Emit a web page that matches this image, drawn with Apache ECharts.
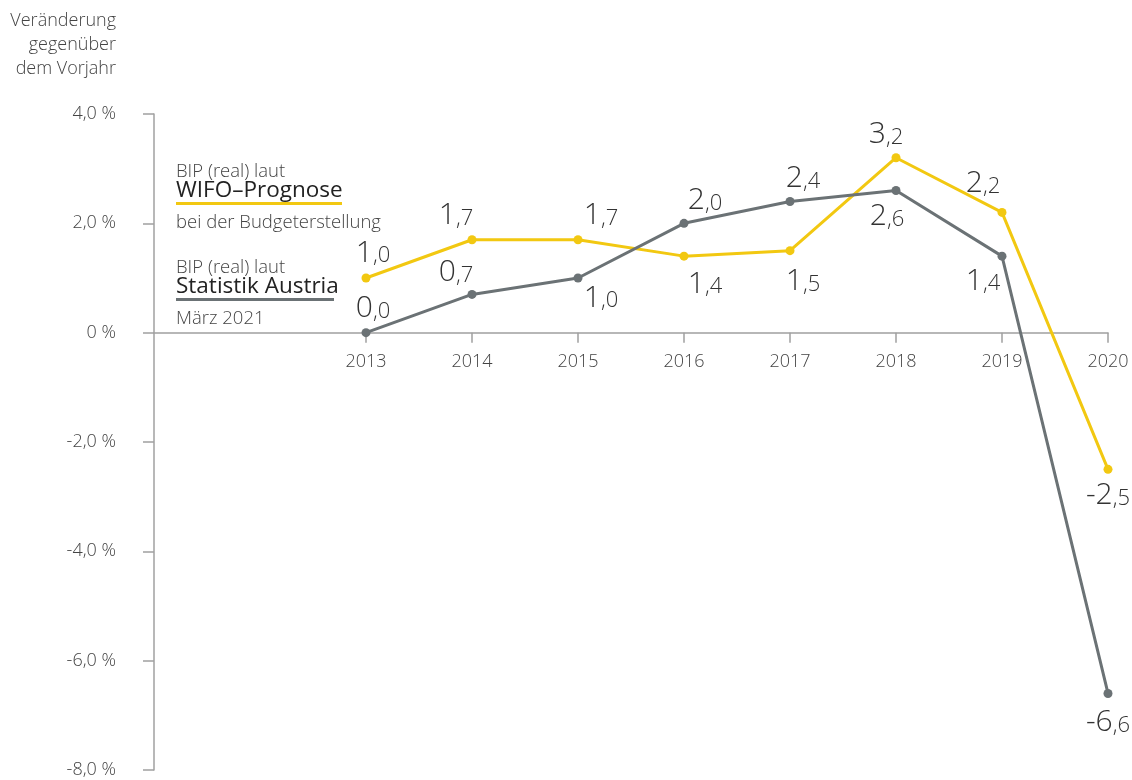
<!DOCTYPE html>
<html>
<head>
<meta charset="utf-8">
<script src="https://cdn.jsdelivr.net/npm/echarts@6/dist/echarts.min.js"></script>
<style>
html,body{margin:0;padding:0;background:#fff;}
#chart{width:1132px;height:780px;}
</style>
</head>
<body>
<div id="chart"></div>
<script>
// ---- data ----
const years = ['2013','2014','2015','2016','2017','2018','2019','2020'];
const wifo = [1.0, 1.7, 1.7, 1.4, 1.5, 3.2, 2.2, -2.5];
const statistik = [0.0, 0.7, 1.0, 2.0, 2.4, 2.6, 1.4, -6.6];
const yTicks = [-8, -6, -4, -2, 0, 2, 4];
const yTitle = ['Veränderung', 'gegenüber', 'dem Vorjahr'];
const legendWifo = ['BIP (real) laut', 'WIFO–Prognose', 'bei der Budgeterstellung'];
const legendStat = ['BIP (real) laut', 'Statistik Austria', 'März 2021'];

// ---- styling ----
const FONT = '"Open Sans", "Noto Sans", sans-serif';
const YELLOW = '#F2C811';
const GRAY = '#6B7275';
const TXT = '#333333';
const AXIS = '#A0A0A0';
const wifoOffsets = [[7,-26],[-16,-25],[23,-25],[21,27],[13,30],[-10,-24],[-19,-30],[0,25]];
const statOffsets = [[7,-25],[-16,-23],[23,19],[21,-24],[13,-24],[-9,25],[-19,24],[0,28]];

const pad = 2;
const cats = Array(pad).fill('').concat(years);
const GRID = {left: 154, right: 24, top: 114, bottom: 10};
const yMin = yTicks[0], yMax = yTicks[yTicks.length - 1];
const gridH = 780 - GRID.top - GRID.bottom;
const zeroOffset = -gridH * (0 - yMin) / (yMax - yMin);

function fmtNum(v){
  const s = v.toFixed(1).replace('.', ',');
  const i = s.indexOf(',');
  return '{a|' + s.slice(0, i) + '}{b|' + s.slice(i) + '}';
}
const rich = {
  a: {fontSize: 30, color: TXT, fontFamily: FONT, fontWeight: 300, lineHeight: 32, verticalAlign: 'bottom'},
  b: {fontSize: 22, color: TXT, fontFamily: FONT, fontWeight: 300, lineHeight: 24, verticalAlign: 'bottom', padding:[0,0,1,0]}
};
function buildData(vals, offs){
  return Array(pad).fill(null).concat(vals.map((v, k) => ({
    value: v,
    label: {offset: offs[k]}
  })));
}
function series(name, vals, offs, color, z){
  return {
    name, type: 'line', z,
    data: buildData(vals, offs),
    symbol: 'circle', symbolSize: 9,
    lineStyle: {color, width: 3},
    itemStyle: {color},
    label: {
      show: true, position: 'inside', align: 'center', verticalAlign: 'middle',
      formatter: p => fmtNum(p.value), rich, color: TXT
    },
    emphasis: {disabled: true},
    animation: false
  };
}

const graphics = [];
yTitle.forEach((t, i) => graphics.push({
  type: 'text', right: 1132 - 116, top: 12 + i * 24,
  style: {text: t, font: '300 18px ' + FONT, fill: '#444', textAlign: 'right'}
}));
function legendBlock(lines, top, color, ulWidth){
  graphics.push({type:'text', left:176, top: top - 1, style:{text: lines[0], font:'300 18.5px '+FONT, fill:'#444'}});
  graphics.push({type:'text', left:176, top: top + 16, style:{text: lines[1], font:'500 22.5px '+FONT, fill:'#222'}});
  graphics.push({type:'rect', shape:{x:176, y: top + 39, width: ulWidth, height: 3}, style:{fill: color}});
  graphics.push({type:'text', left:176, top: top + 50, style:{text: lines[2], font:'300 18.5px '+FONT, fill:'#444'}});
}
legendBlock(legendWifo, 163, YELLOW, 166);
legendBlock(legendStat, 259, GRAY, 158);

const option = {
  backgroundColor: '#fff',
  animation: false,
  grid: Object.assign({containLabel: false, outerBoundsMode: 'none'}, GRID),
  xAxis: {
    type: 'category', data: cats, boundaryGap: false,
    position: 'bottom', offset: zeroOffset,
    axisLine: {onZero: false, lineStyle: {color: AXIS, width: 1.5}},
    axisTick: {show: true, length: 10, interval: (i) => i >= pad, lineStyle: {color: AXIS, width: 1.5}},
    axisLabel: {interval: 0, margin: 20, fontSize: 18, fontWeight: 300, color: '#444', fontFamily: FONT},
    splitLine: {show: false}
  },
  yAxis: {
    type: 'value', min: yMin, max: yMax, interval: 2,
    axisLine: {show: true, lineStyle: {color: AXIS, width: 1.5}},
    axisTick: {show: true, length: 11, lineStyle: {color: AXIS, width: 1.5}},
    axisLabel: {
      margin: 38, fontSize: 18, fontWeight: 300, color: '#444', fontFamily: FONT,
      formatter: v => v === 0 ? '0 %' : v.toFixed(1).replace('.', ',') + ' %'
    },
    splitLine: {show: false}
  },
  series: [
    series('WIFO–Prognose', wifo, wifoOffsets, YELLOW, 2),
    series('Statistik Austria', statistik, statOffsets, GRAY, 3)
  ],
  graphic: graphics
};

const chart = echarts.init(document.getElementById('chart'), null, {renderer: 'canvas'});
chart.setOption(option);
</script>
</body>
</html>
